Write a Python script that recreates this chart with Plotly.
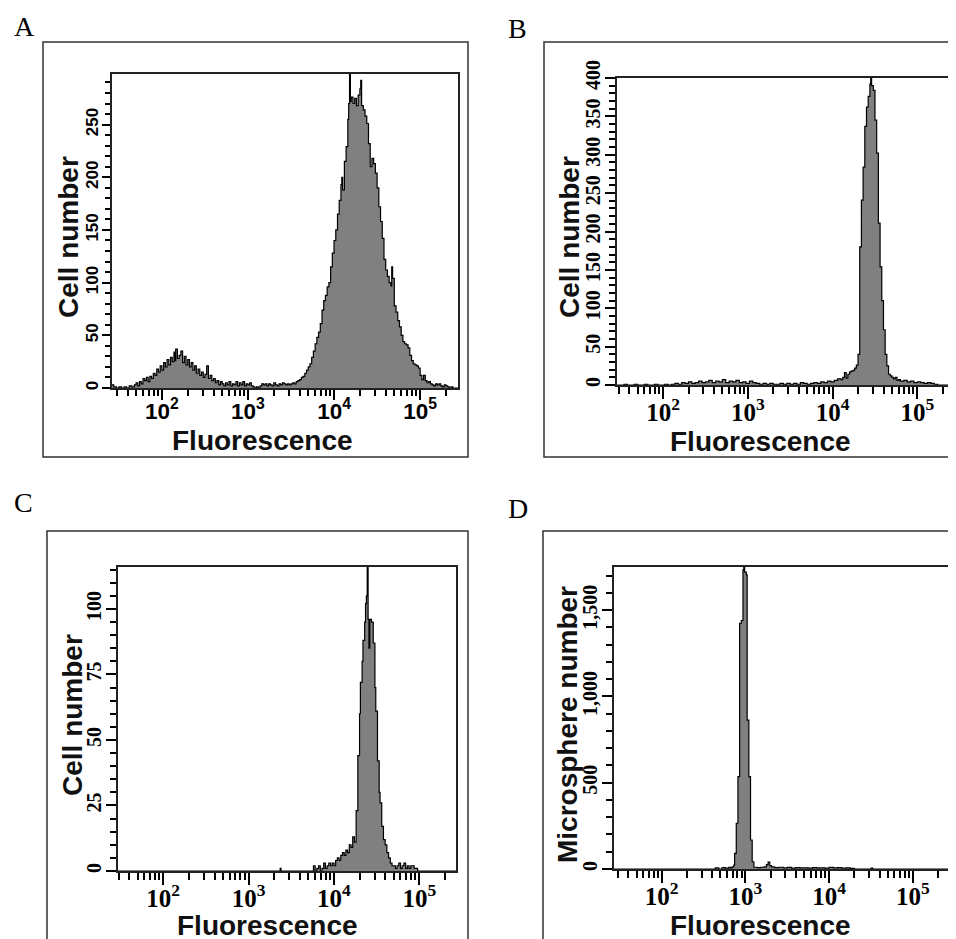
import plotly.graph_objects as go

# ---------------- data (log10 fluorescence, cell counts) ----------------
a_logf = [1.42,1.44,1.47,1.50,1.53,1.56,1.59,1.62,1.65,1.68,1.70,1.72,1.74,1.76,1.78,1.80,1.82,1.84,1.86,1.88,
          1.90,1.92,1.94,1.96,1.98,2.00,2.02,2.04,2.06,2.08,2.10,2.12,2.14,2.15,2.16,2.18,2.20,2.22,2.24,2.26,
          2.28,2.30,2.32,2.34,2.36,2.38,2.40,2.42,2.44,2.46,2.48,2.50,2.52,2.54,2.56,2.58,2.60,2.62,2.64,2.66,
          2.68,2.70,2.72,2.74,2.76,2.78,2.80,2.82,2.84,2.86,2.88,2.90,2.92,2.94,2.96,2.98,3.00,3.02,3.04,3.06,
          3.08,3.10,3.12,3.14,3.16,3.18,3.20,3.22,3.24,3.26,3.28,3.30,3.32,3.34,3.36,3.38,3.40,3.42,3.44,3.46,
          3.48,3.50,3.52,3.54,3.56,3.58,3.60,3.62,3.64,3.66,3.68,3.70,3.72,3.74,3.76,3.78,3.80,3.82,3.84,3.86,
          3.88,3.90,3.92,3.94,3.96,3.98,4.00,4.02,4.04,4.06,4.08,4.09,4.10,4.12,4.14,4.16,4.17,4.18,4.19,4.20,
          4.22,4.24,4.26,4.28,4.30,4.31,4.32,4.34,4.36,4.38,4.40,4.42,4.44,4.46,4.48,4.50,4.52,4.54,4.56,4.58,
          4.60,4.62,4.64,4.66,4.67,4.68,4.70,4.72,4.74,4.76,4.78,4.80,4.82,4.84,4.86,4.88,4.90,4.92,4.94,4.96,
          4.98,5.00,5.02,5.04,5.06,5.08,5.10,5.12,5.14,5.16,5.18,5.20,5.22,5.24,5.26,5.28,5.30,5.32,5.34,5.36,
          5.38,5.40,5.44]
a_count = [3,1,0,1,0,1,0,2,1,3,5,2,6,4,9,7,10,6,11,9,
           14,12,18,15,21,17,24,20,27,22,29,25,34,26,37,28,31,35,24,30,
           22,27,20,24,17,21,14,18,12,15,10,13,21,9,12,7,9,5,7,3,
           6,4,2,5,3,6,2,4,3,6,2,5,3,6,2,4,3,5,2,1,
           0,1,0,2,4,3,4,2,4,3,2,5,3,2,4,3,5,4,3,4,
           3,4,5,4,6,7,8,10,11,14,17,20,23,29,35,42,48,53,61,74,
           83,88,96,100,115,128,140,150,165,178,193,200,188,215,229,255,270,305,272,276,
           270,275,268,278,284,292,268,264,258,251,232,210,218,213,204,190,172,158,142,122,
           112,106,100,97,115,104,78,72,64,58,50,44,42,41,38,31,26,23,22,21,
           19,12,8,12,7,5,6,4,3,2,4,3,4,2,1,3,2,1,0,1,
           0,0,0]

b_logf = [1.46,1.50,1.54,1.58,1.62,1.66,1.70,1.74,1.78,1.82,1.86,1.90,1.94,1.98,2.02,2.06,2.10,2.14,2.18,2.22,
          2.26,2.30,2.34,2.38,2.42,2.46,2.50,2.54,2.58,2.62,2.66,2.70,2.74,2.78,2.82,2.86,2.90,2.94,2.98,3.02,
          3.06,3.10,3.14,3.18,3.22,3.26,3.30,3.34,3.38,3.42,3.46,3.50,3.54,3.58,3.62,3.66,3.70,3.74,3.78,3.82,
          3.86,3.90,3.94,3.98,4.02,4.06,4.10,4.12,4.14,4.16,4.18,4.20,4.22,4.24,4.26,4.28,4.30,4.32,4.34,4.36,
          4.38,4.40,4.42,4.44,4.45,4.46,4.48,4.50,4.52,4.54,4.56,4.58,4.60,4.62,4.64,4.66,4.68,4.70,4.72,4.74,
          4.76,4.78,4.80,4.84,4.88,4.92,4.96,5.00,5.04,5.08,5.12,5.16,5.20,5.24,5.30,5.40,5.46]
b_count = [0,0,1,0,0,1,0,0,1,0,0,1,0,0,1,0,1,2,1,3,
           2,4,2,3,5,3,4,6,3,5,4,7,3,5,4,6,3,4,2,5,
           3,2,1,2,1,2,1,1,2,1,2,1,2,1,3,2,1,2,3,2,
           4,3,5,4,6,8,7,10,16,9,14,17,18,19,22,26,40,180,241,284,
           337,362,376,392,405,390,384,345,302,211,154,110,72,40,25,14,12,10,8,10,
           6,7,5,6,4,5,3,4,3,2,3,2,1,0,0,0,0]

c_logf = [1.47,2.00,3.00,3.36,3.37,3.38,3.72,3.76,3.78,3.80,3.82,3.84,3.86,3.88,3.90,3.92,3.94,3.96,3.98,4.00,
          4.02,4.04,4.06,4.08,4.10,4.12,4.14,4.16,4.18,4.20,4.22,4.24,4.26,4.28,4.30,4.31,4.33,4.34,4.36,4.37,
          4.38,4.39,4.40,4.41,4.42,4.44,4.46,4.48,4.49,4.51,4.53,4.54,4.56,4.58,4.60,4.62,4.64,4.66,4.68,4.70,
          4.72,4.74,4.76,4.78,4.80,4.82,4.84,4.86,4.88,4.90,4.92,4.94,4.96,4.98,5.20,5.43]
c_count = [0,0,0,0,1,0,0,2,0,1,2,0,1,3,1,2,3,2,3,2,
           4,5,4,6,7,6,8,7,10,9,13,11,23,44,60,72,80,88,95,102,
           105,125,96,85,96,95,87,70,61,42,30,26,17,12,10,7,5,3,2,2,
           1,2,3,1,2,3,1,2,1,2,2,1,1,0,0,0]

d_logf = [1.43,2.00,2.60,2.64,2.68,2.72,2.76,2.80,2.82,2.84,2.86,2.87,2.89,2.91,2.93,2.95,2.97,2.98,2.99,3.01,
          3.02,3.04,3.06,3.08,3.10,3.14,3.18,3.22,3.25,3.27,3.29,3.31,3.35,3.40,3.45,3.50,3.55,3.60,3.65,3.70,
          3.75,3.80,3.85,3.90,3.95,4.00,4.05,4.10,4.15,4.20,4.25,4.30,4.40,4.50,4.52,4.60,5.00,5.43]
d_count = [0,0,0,6,0,8,5,10,6,12,23,91,265,535,1424,1440,1733,1800,1720,1704,
           863,535,168,42,10,8,10,12,25,40,20,12,8,10,6,9,5,8,6,7,
           5,8,6,7,5,9,6,8,5,7,4,0,0,5,0,0,0,0]

x_title = "Fluorescence"
y_titles = ["Cell number", "Cell number", "Cell number", "Microsphere number"]
panel_letters = ["A", "B", "C", "D"]

W, H = 956, 939
OFF = 8  # page body margin of the exported html


def px_x(p):
    return (p - OFF) / W


def px_y(p):
    return 1 - (p - OFF) / H


fig = go.Figure()

sans_b = dict(family="Liberation Sans", weight="bold")
serif_b = dict(family="Liberation Serif", weight="bold")

# panel geometry in pixels: inner box left, right, top, bottom
panels = [
    dict(data=(a_logf, a_count), box=(112, 458, 74, 388), xr=(1.42, 5.44), yr=(0, 298),
         ydt=50, ymin=10, fmt="", tfont=dict(size=17, **sans_b),
         xfont=dict(size=18, **sans_b), ml=8, mn=5,
         outer=(43, 468, 42, 457), letter=(12, 27), yt=(68, 237), xt=(262, 440)),
    dict(data=(b_logf, b_count), box=(617, 964, 78, 385), xr=(1.457, 5.55), yr=(0, 400),
         ydt=50, ymin=10, fmt="", tfont=dict(size=20, **serif_b),
         xfont=dict(size=20, **serif_b), ml=10, mn=6,
         outer=(544, 972, 42, 457), letter=(506, 29), yt=(569, 237), xt=(760, 441)),
    dict(data=(c_logf, c_count), box=(118, 456, 567, 871), xr=(1.47, 5.43), yr=(0, 116),
         ydt=25, ymin=5, fmt="", tfont=dict(size=20, **serif_b),
         xfont=dict(size=20, **serif_b), ml=10, mn=6,
         outer=(47, 468, 531, 955), letter=(12, 503), yt=(72, 715), xt=(267, 925)),
    dict(data=(d_logf, d_count), box=(614, 949, 567, 869), xr=(1.43, 5.43), yr=(0, 1750),
         ydt=500, ymin=100, fmt=",", tfont=dict(size=20, **serif_b),
         xfont=dict(size=20, **serif_b), ml=10, mn=6,
         outer=(543, 972, 531, 955), letter=(506, 508), yt=(567, 725), xt=(760, 925)),
]

for i, p in enumerate(panels):
    n = "" if i == 0 else str(i + 1)
    logf, cnt = p["data"]
    fig.add_trace(go.Scatter(
        x=[10 ** v for v in logf], y=cnt, mode="lines",
        line=dict(shape="hv", color="black", width=1.2),
        fill="tozeroy", fillcolor="#808080",
        xaxis="x" + n, yaxis="y" + n, hoverinfo="skip"))
    l, r, t, b = p["box"]
    fig.update_layout(**{
        "xaxis" + n: dict(
            type="log", range=list(p["xr"]), domain=[px_x(l), min(px_x(r), 1.0)],
            anchor="y" + n, dtick=1, exponentformat="power", showexponent="all",
            ticks="outside", ticklen=p["ml"] + 2, tickwidth=1.5, tickcolor="black",
            minor=dict(dtick="D1", ticks="outside", ticklen=p["mn"] + 1, tickwidth=1.5, tickcolor="black"),
            showline=True, mirror=True, linecolor="#222", linewidth=1.6,
            showgrid=False, zeroline=False, automargin=False, ticklabelstandoff=-7,
            tickfont=dict(color="black", **p["xfont"])),
        "yaxis" + n: dict(
            range=list(p["yr"]), domain=[px_y(b), px_y(t)], anchor="x" + n,
            dtick=p["ydt"], tickformat=p["fmt"], tickangle=-90,
            ticks="outside", ticklen=p["ml"], tickwidth=1.5, tickcolor="black",
            minor=dict(dtick=p["ymin"], ticks="outside", ticklen=p["mn"], tickwidth=1.5, tickcolor="black"),
            showline=True, mirror=True, linecolor="#222", linewidth=1.6,
            showgrid=False, zeroline=False, automargin=False, ticklabelstandoff=-3,
            tickfont=dict(color="black", **p["tfont"])),
    })
    ol, orr, ot, ob = p["outer"]
    fig.add_shape(type="rect", xref="paper", yref="paper",
                  x0=px_x(ol), x1=px_x(orr), y0=px_y(ob), y1=px_y(ot),
                  line=dict(color="#333", width=1.5))
    lx, ly = p["letter"]
    fig.add_annotation(x=px_x(lx), y=px_y(ly), xref="paper", yref="paper",
                       text=panel_letters[i], showarrow=False, xanchor="left", yanchor="middle",
                       font=dict(family="Liberation Serif", size=28, color="black"))
    yx, yy = p["yt"]
    fig.add_annotation(x=px_x(yx), y=px_y(yy), xref="paper", yref="paper",
                       text=y_titles[i], showarrow=False, textangle=-90,
                       xanchor="center", yanchor="middle",
                       font=dict(size=28, color="#111", **sans_b))
    xx, xy = p["xt"]
    fig.add_annotation(x=px_x(xx), y=px_y(xy), xref="paper", yref="paper",
                       text=x_title, showarrow=False, xanchor="center", yanchor="middle",
                       font=dict(size=28, color="#111", **sans_b))

fig.update_layout(width=W, height=H, autosize=False,
                  margin=dict(l=0, r=0, t=0, b=0, pad=0, autoexpand=False),
                  paper_bgcolor="white", plot_bgcolor="white", showlegend=False)

fig.write_html("out.html")
